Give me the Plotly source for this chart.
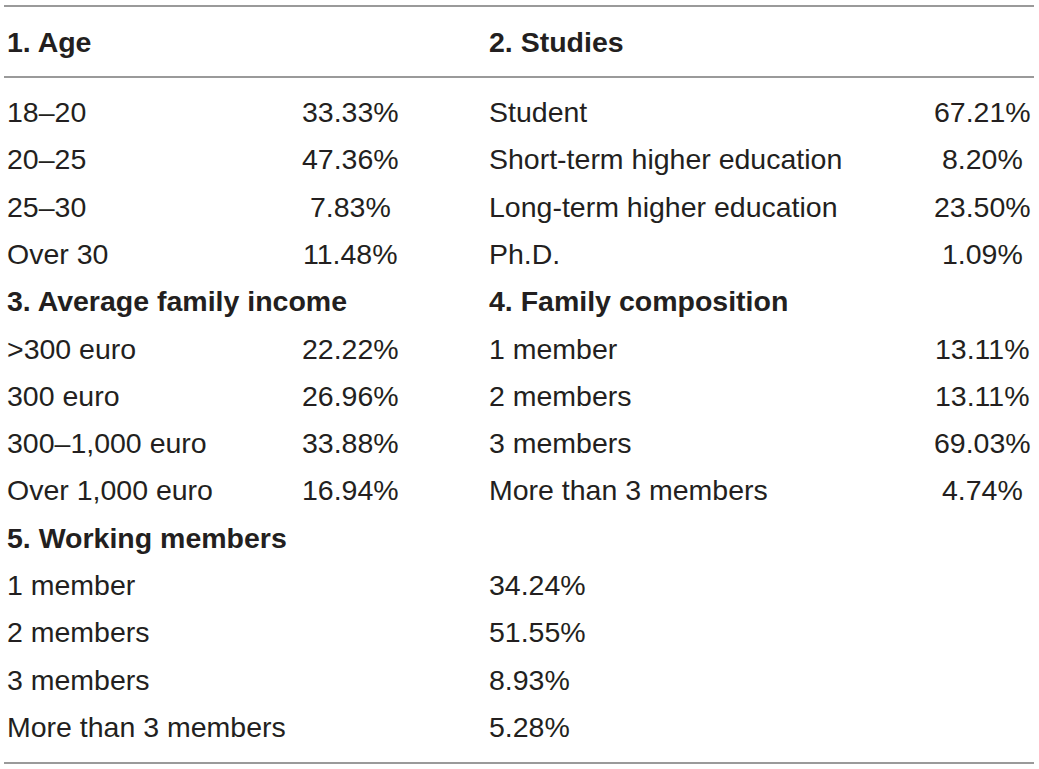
import plotly.graph_objects as go

# section titles
section_titles = [
    "1. Age",
    "2. Studies",
    "3. Average family income",
    "4. Family composition",
    "5. Working members",
]

age_labels = ["18–20", "20–25", "25–30", "Over 30"]
age_values = ["33.33%", "47.36%", "7.83%", "11.48%"]

studies_labels = [
    "Student",
    "Short-term higher education",
    "Long-term higher education",
    "Ph.D.",
]
studies_values = ["67.21%", "8.20%", "23.50%", "1.09%"]

income_labels = [">300 euro", "300 euro", "300–1,000 euro", "Over 1,000 euro"]
income_values = ["22.22%", "26.96%", "33.88%", "16.94%"]

family_labels = ["1 member", "2 members", "3 members", "More than 3 members"]
family_values = ["13.11%", "13.11%", "69.03%", "4.74%"]

working_labels = ["1 member", "2 members", "3 members", "More than 3 members"]
working_values = ["34.24%", "51.55%", "8.93%", "5.28%"]

W, H = 1039, 769
FONT = "Liberation Sans, Arial, Helvetica, sans-serif"
TEXT_COLOR = "#231f20"
LINE_COLOR = "#9a9a9a"
SIZE = 28.5

# layout grid (pixel units of the page)
HEADER_Y = 42
FIRST_ROW_Y = 112
ROW_STEP = 47.3
COL1_X = 5
COL2_CX = 350
COL3_X = 487
COL4_CX = 982

annotations = []


def add_text(text, x, y, anchor="left", bold=False):
    annotations.append(
        dict(
            text=f"<b>{text}</b>" if bold else text,
            x=x,
            y=y,
            xref="x",
            yref="y",
            xanchor=anchor,
            yanchor="middle",
            showarrow=False,
            font=dict(family=FONT, size=SIZE, color=TEXT_COLOR),
        )
    )


def row_y(k):
    return FIRST_ROW_Y + ROW_STEP * k


# header row
add_text(section_titles[0], COL1_X, HEADER_Y, bold=True)
add_text(section_titles[1], COL3_X, HEADER_Y, bold=True)

# block 1/2
for i in range(4):
    add_text(age_labels[i], COL1_X, row_y(i))
    add_text(age_values[i], COL2_CX, row_y(i), anchor="center")
    add_text(studies_labels[i], COL3_X, row_y(i))
    add_text(studies_values[i], COL4_CX, row_y(i), anchor="center")

# block 3/4
add_text(section_titles[2], COL1_X, row_y(4), bold=True)
add_text(section_titles[3], COL3_X, row_y(4), bold=True)
for i in range(4):
    add_text(income_labels[i], COL1_X, row_y(5 + i))
    add_text(income_values[i], COL2_CX, row_y(5 + i), anchor="center")
    add_text(family_labels[i], COL3_X, row_y(5 + i))
    add_text(family_values[i], COL4_CX, row_y(5 + i), anchor="center")

# block 5
add_text(section_titles[4], COL1_X, row_y(9), bold=True)
for i in range(4):
    add_text(working_labels[i], COL1_X, row_y(10 + i))
    add_text(working_values[i], COL3_X, row_y(10 + i))

shapes = []
for ly in [6, 77, 763]:
    shapes.append(
        dict(
            type="line",
            xref="x",
            yref="y",
            x0=4,
            x1=1034,
            y0=ly,
            y1=ly,
            line=dict(color=LINE_COLOR, width=2),
        )
    )

fig = go.Figure()
fig.add_trace(go.Scatter(x=[], y=[], mode="markers", showlegend=False))
fig.update_layout(
    width=W,
    height=H,
    margin=dict(l=0, r=0, t=0, b=0),
    plot_bgcolor="white",
    paper_bgcolor="white",
    xaxis=dict(range=[0, W], visible=False, fixedrange=True),
    yaxis=dict(range=[H, 0], visible=False, fixedrange=True),
    annotations=annotations,
    shapes=shapes,
    showlegend=False,
)

# drop the default page margin so the figure sits at the window origin
fig.write_html(
    "out.html",
    config={"displayModeBar": False},
    post_script="document.body.style.margin='0';",
)
